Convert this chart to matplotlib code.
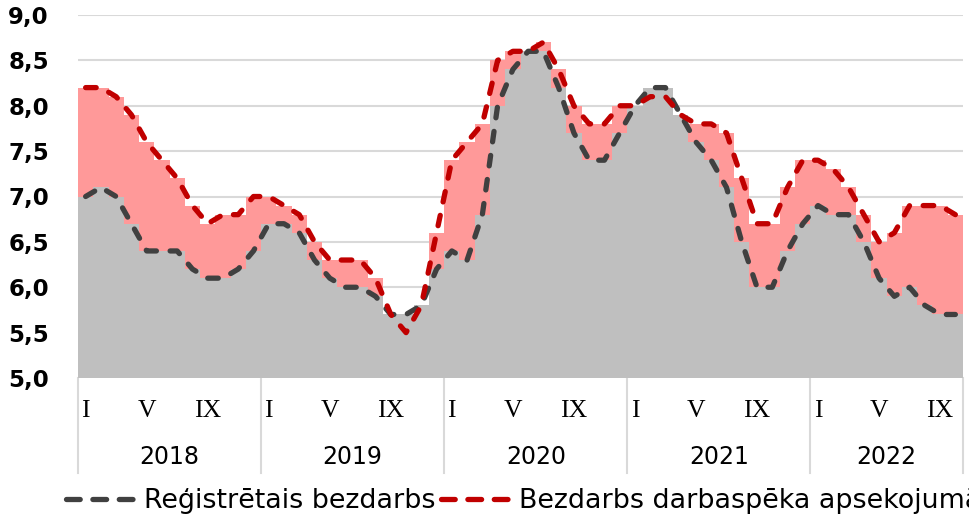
#!/usr/bin/env python

import numpy as np
import matplotlib.pyplot as plt
import matplotlib.transforms as mtransforms
from matplotlib.lines import Line2D

# ----------------------------------------------------------------------
# data (monthly, 2018 I - 2022 X), %
# ----------------------------------------------------------------------

years = ['2018', '2019', '2020', '2021', '2022']
months_in_year = [12, 12, 12, 12, 10]
month_marks = {0: 'I', 4: 'V', 8: 'IX'}

registered = [7.0, 7.1, 7.0, 6.7, 6.4, 6.4, 6.4, 6.2, 6.1, 6.1, 6.2, 6.4,
              6.7, 6.7, 6.6, 6.3, 6.1, 6.0, 6.0, 5.9, 5.7, 5.7, 5.8, 6.2,
              6.4, 6.3, 6.8, 8.0, 8.4, 8.6, 8.6, 8.2, 7.7, 7.4, 7.4, 7.7,
              8.0, 8.2, 8.2, 7.9, 7.6, 7.4, 7.1, 6.5, 6.0, 6.0, 6.4, 6.7,
              6.9, 6.8, 6.8, 6.5, 6.1, 5.9, 6.0, 5.8, 5.7, 5.7]

lfs = [8.2, 8.2, 8.1, 7.9, 7.6, 7.4, 7.2, 6.9, 6.7, 6.8, 6.8, 7.0,
       7.0, 6.9, 6.8, 6.5, 6.3, 6.3, 6.3, 6.1, 5.7, 5.5, 5.8, 6.6,
       7.4, 7.6, 7.8, 8.5, 8.6, 8.6, 8.7, 8.4, 8.0, 7.8, 7.8, 8.0,
       8.0, 8.1, 8.1, 7.9, 7.8, 7.8, 7.7, 7.2, 6.7, 6.7, 7.1, 7.4,
       7.4, 7.3, 7.1, 6.8, 6.5, 6.6, 6.9, 6.9, 6.9, 6.8]

series_names = ['Reģistrētais bezdarbs', 'Bezdarbs darbaspēka apsekojumā']

# ----------------------------------------------------------------------
# plot
# ----------------------------------------------------------------------

W, H = 970, 517
fig = plt.figure(figsize=(W / 100, H / 100), dpi=100)
ax = fig.add_axes([78 / W, 1 - 378 / H, (963 - 78) / W, (378 - 15) / H])

x = np.arange(len(registered))
edges_x = np.arange(len(registered) + 1) - 0.5

# step-like areas (one flat column per month)
ax.stairs(lfs, edges_x, fill=True, baseline=0, color='#ff9999', zorder=2)
ax.stairs(registered, edges_x, fill=True, baseline=0, color='#bfbfbf', zorder=3)

# dashed lines
line_kw = dict(lw=3.8, dash_capstyle='round', solid_capstyle='round', zorder=5)
ax.plot(x, registered, color='#404040', dashes=(2.0, 2.6), **line_kw)
ax.plot(x, lfs, color='#c00000', dashes=(2.0, 2.6), **line_kw)

ax.set_xlim(-0.5, len(registered) - 0.5)
ax.set_ylim(5.0, 9.0)
yt = np.arange(5.0, 9.01, 0.5)
ax.set_yticks(yt)
ax.set_yticklabels([('%.1f' % v).replace('.', ',') for v in yt],
                   fontsize=16.5, fontweight='bold')
ax.set_xticks([])
ax.tick_params(axis='y', length=0, pad=21)
ax.yaxis.grid(True, color='#d9d9d9', lw=1.5)
ax.set_axisbelow(True)
for s in ax.spines.values():
    s.set_visible(False)

# category axis: months and years
trans = mtransforms.blended_transform_factory(ax.transData, ax.transAxes)
sep_bottom = -(473 - 378) / (378 - 15)
month_y = -(411 - 378) / (378 - 15)
year_y = -(457 - 378) / (378 - 15)

start = 0
edges = [-0.5]
for year, n in zip(years, months_in_year):
    for m, lab in month_marks.items():
        if m < n:
            ax.text(start + m, month_y, lab, transform=trans, ha='center',
                    va='center', fontsize=18.5, family='Liberation Serif')
    ax.text(start + (n - 1) / 2.0, year_y, year, transform=trans,
            ha='center', va='center', fontsize=17)
    start += n
    edges.append(start - 0.5)

for e in edges:
    ax.add_line(Line2D([e, e], [0, sep_bottom], transform=trans,
                       color='#d9d9d9', lw=1.5, clip_on=False))

# legend
handles = [Line2D([], [], color='#404040', dashes=(2.6, 2.4), **line_kw),
           Line2D([], [], color='#c00000', dashes=(2.6, 2.4), **line_kw)]
fig.legend(handles, series_names, loc='center left',
           bbox_to_anchor=(66 / W, 1 - 501 / H), ncol=2, frameon=False,
           fontsize=19.4, handlelength=2.7, handletextpad=0.2,
           columnspacing=0.2, borderpad=0, borderaxespad=0)

fig.savefig('out.png', dpi=100)
plt.close()
